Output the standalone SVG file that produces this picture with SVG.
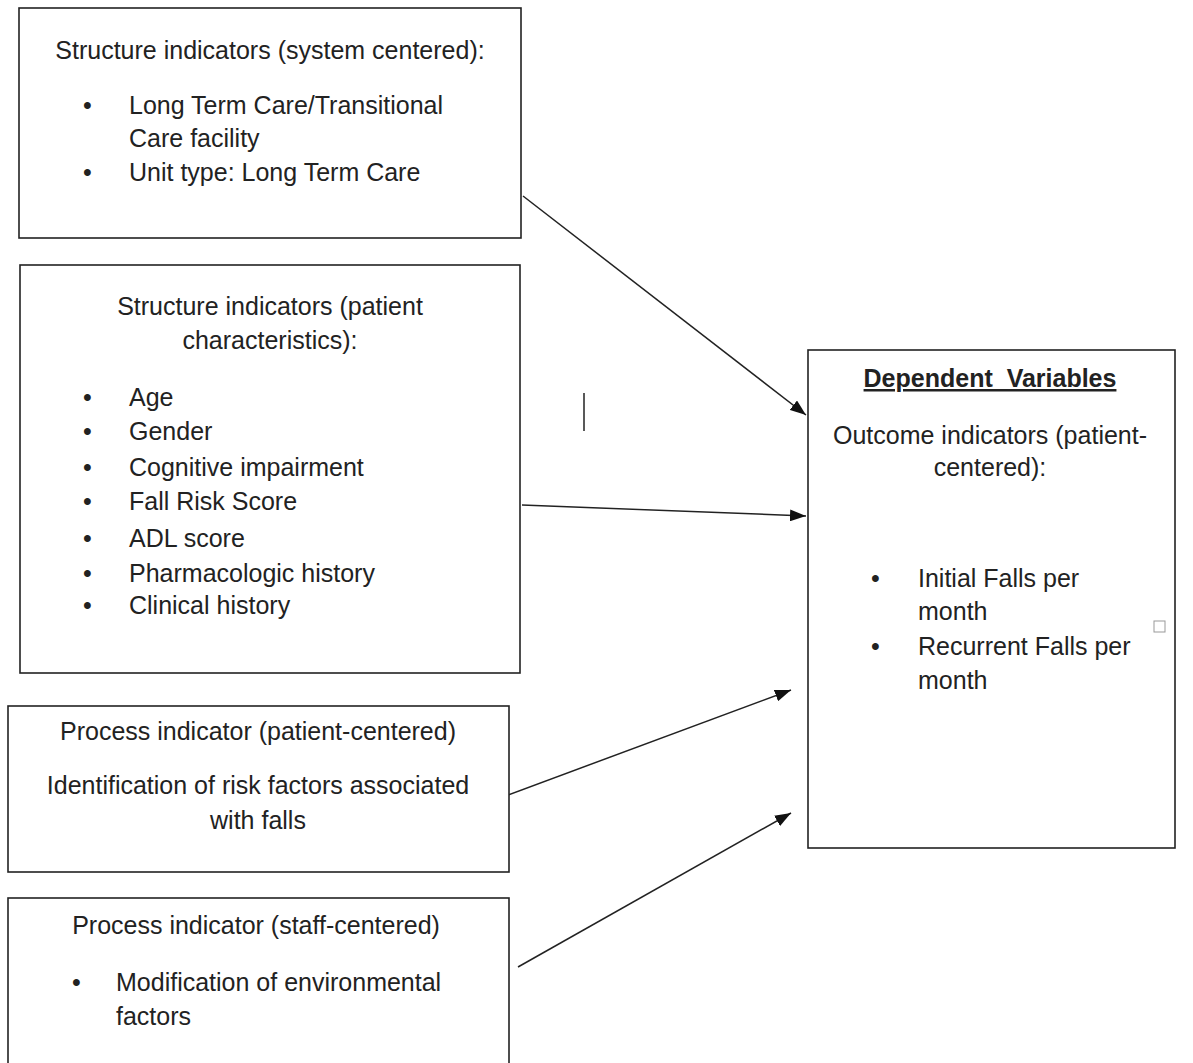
<svg xmlns="http://www.w3.org/2000/svg" width="1193" height="1063" viewBox="0 0 1193 1063">
<defs>
<style>
.box{fill:#fff;stroke:#222;stroke-width:1.6}
.t{font-family:"Liberation Sans",Arial,sans-serif;font-size:25px;fill:#222}
.c{text-anchor:middle}
.b{font-weight:bold;text-decoration:underline}
.conn{stroke:#222;stroke-width:1.5;fill:none;marker-end:url(#ah)}
</style>
<marker id="ah" viewBox="0 0 16 12" refX="16" refY="6" markerWidth="16" markerHeight="12" markerUnits="userSpaceOnUse" orient="auto">
<path d="M0,0 L16,6 L0,12 z" fill="#111"/>
</marker>
</defs>
<rect width="1193" height="1063" fill="#fff"/>
<g id="connectors">
<line class="conn" x1="523" y1="196" x2="806" y2="415"/>
<line class="conn" x1="522" y1="505" x2="806" y2="516"/>
<line class="conn" x1="508" y1="795" x2="791" y2="690"/>
<line class="conn" x1="518" y1="967" x2="791" y2="813"/>
</g>
<g id="n1">
<rect class="box" x="19" y="8" width="502" height="230"/>
<text class="t c" x="270" y="59">Structure indicators (system centered):</text>
<text class="t" x="83" y="114">•</text><text class="t" x="129" y="114">Long Term Care/Transitional</text>
<text class="t" x="129" y="147">Care facility</text>
<text class="t" x="83" y="181">•</text><text class="t" x="129" y="181">Unit type: Long Term Care</text>
</g>
<g id="n2">
<rect class="box" x="20" y="265" width="500" height="408"/>
<text class="t c" x="270" y="315">Structure indicators (patient</text>
<text class="t c" x="270" y="349">characteristics):</text>
<text class="t" x="83" y="406">•</text><text class="t" x="129" y="406">Age</text>
<text class="t" x="83" y="440">•</text><text class="t" x="129" y="440">Gender</text>
<text class="t" x="83" y="476">•</text><text class="t" x="129" y="476">Cognitive impairment</text>
<text class="t" x="83" y="510">•</text><text class="t" x="129" y="510">Fall Risk Score</text>
<text class="t" x="83" y="547">•</text><text class="t" x="129" y="547">ADL score</text>
<text class="t" x="83" y="582">•</text><text class="t" x="129" y="582">Pharmacologic history</text>
<text class="t" x="83" y="614">•</text><text class="t" x="129" y="614">Clinical history</text>
</g>
<g id="n3">
<rect class="box" x="8" y="706" width="501" height="166"/>
<text class="t c" x="258" y="740">Process indicator (patient-centered)</text>
<text class="t c" x="258" y="794">Identification of risk factors associated</text>
<text class="t c" x="258" y="829">with falls</text>
</g>
<g id="n4">
<rect class="box" x="8" y="898" width="501" height="180"/>
<text class="t c" x="256" y="934">Process indicator (staff-centered)</text>
<text class="t" x="72" y="991">•</text><text class="t" x="116" y="991">Modification of environmental</text>
<text class="t" x="116" y="1025">factors</text>
</g>
<g id="n5">
<rect class="box" x="808" y="350" width="367" height="498"/>
<text class="t c b" x="990" y="387">Dependent&#160; Variables</text>
<text class="t c" x="990" y="444">Outcome indicators (patient-</text>
<text class="t c" x="990" y="476">centered):</text>
<text class="t" x="871" y="587">•</text><text class="t" x="918" y="587">Initial Falls per</text>
<text class="t" x="918" y="620">month</text>
<text class="t" x="871" y="655">•</text><text class="t" x="918" y="655">Recurrent Falls per</text>
<text class="t" x="918" y="689">month</text>
</g>
<line x1="584" y1="393" x2="584" y2="431" stroke="#222" stroke-width="1.5"/>
<rect x="1154" y="621" width="11" height="11" fill="none" stroke="#999" stroke-width="1"/>
</svg>
